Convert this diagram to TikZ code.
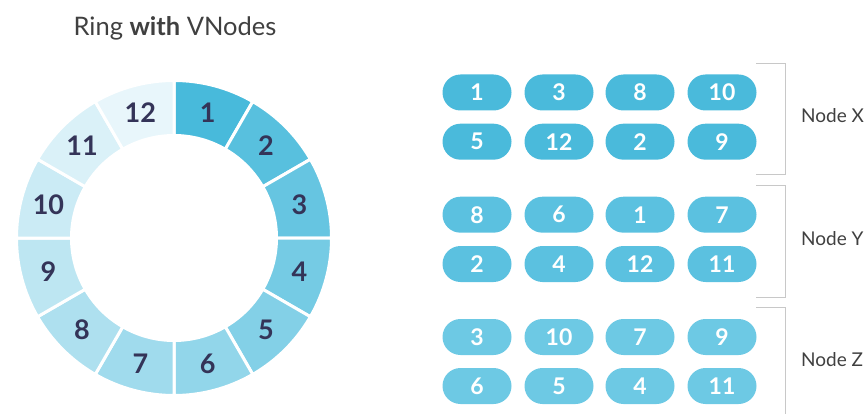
\documentclass[tikz,border=0pt]{standalone}
\usepackage{fontspec}
\setmainfont{Lato}
\definecolor{ringA}{RGB}{72,186,219}
\definecolor{ringB}{RGB}{232,246,251}
\definecolor{pillX}{RGB}{74,186,219}
\definecolor{pillY}{RGB}{91,193,224}
\definecolor{pillZ}{RGB}{109,201,228}
\definecolor{ringtext}{RGB}{52,52,88}
\definecolor{labelgray}{RGB}{64,64,64}
\definecolor{brgray}{RGB}{200,200,200}
\begin{document}
\begin{tikzpicture}[x=1pt,y=-1pt,
  pill/.style={rounded corners=18pt, minimum width=69pt, minimum height=36pt, inner sep=0pt, text=white, font=\fontsize{23}{23}\selectfont\bfseries},
  seglabel/.style={text=ringtext, font=\fontsize{27}{27}\selectfont\bfseries},
  nodelabel/.style={anchor=west, text=labelgray, inner sep=0pt, font=\fontsize{19}{19}\selectfont},
  bracket/.style={draw=brgray, line width=1pt},
  segment/.style={draw=white, line width=3pt}]
\useasboundingbox (0,0) rectangle (867,414);
% title
\node[text=labelgray, font=\fontsize{25.5}{25.5}\selectfont] (title) at (175,28) {Ring \textbf{with} VNodes};
% ring
\begin{scope}[shift={(174,238)}]
\foreach \i in {1,...,12}{
  \pgfmathsetmacro\a{-90+30*(\i-1)}
  \pgfmathsetmacro\b{-60+30*(\i-1)}
  \pgfmathsetmacro\m{-75+30*(\i-1)}
  \pgfmathtruncatemacro\p{100-(\i-1)*100/11}
  \path[segment, fill=ringA!\p!ringB] (\a:157.5) arc[start angle=\a, end angle=\b, radius=157.5] -- (\b:102.5) arc[start angle=\b, end angle=\a, radius=102.5] -- cycle;
  \node[seglabel] (s\i) at (\m:130) {\i};
}
\end{scope}
% pills
\foreach \row/\y/\col/\lst in {x1/92.5/pillX/{1,3,8,10}, x2/141.7/pillX/{5,12,2,9},
                               y1/214.7/pillY/{8,6,1,7}, y2/264/pillY/{2,4,12,11},
                               z1/337/pillZ/{3,10,7,9}, z2/386/pillZ/{6,5,4,11}}{
  \foreach \v [count=\c] in \lst {
    \pgfmathsetmacro\xx{{477,559,640,722}[\c-1]}
    \node[pill, fill=\col] (p\row\c) at (\xx,\y) {\v};
  }
}
% brackets
\draw[bracket] (756,63.5) -- (785,63.5) -- (785,174.5) -- (756,174.5);
\draw[bracket] (756,186) -- (785,186) -- (785,297) -- (756,297);
\draw[bracket] (756,307.5) -- (785,307.5) -- (785,420);
\node[nodelabel] (nx) at (801,116) {Node X};
\node[nodelabel] (ny) at (801,239) {Node Y};
\node[nodelabel] (nz) at (801,360) {Node Z};
\end{tikzpicture}
\end{document}
